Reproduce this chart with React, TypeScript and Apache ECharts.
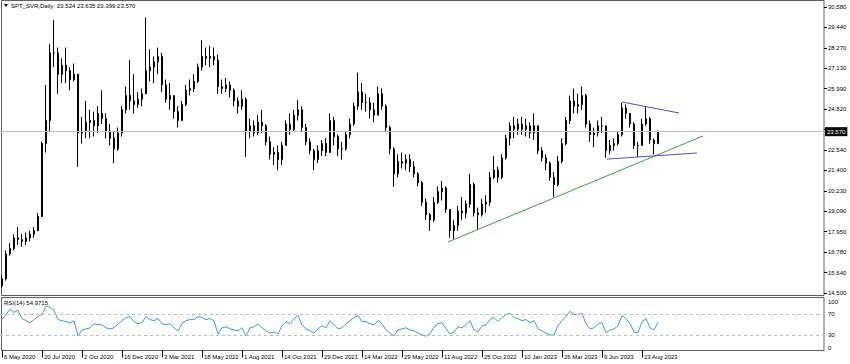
import React, { useEffect, useRef } from 'react';
import * as echarts from 'echarts';

const W = 850;
const H = 364;
const FONT = '"Liberation Sans", Arial, sans-serif';

// Date labels drawn under every 10th bar slot
const xLabels = ['6 May 2020', '20 Jul 2020', '2 Oct 2020', '16 Dec 2020', '3 Mar 2021', '18 May 2021', '1 Aug 2021', '14 Oct 2021', '29 Dec 2021', '14 Mar 2022', '29 May 2022', '11 Aug 2022', '25 Oct 2022', '10 Jan 2023', '26 Mar 2023', '9 Jun 2023', '23 Aug 2023'];

// Price scale labels, bottom to top (index 8 hidden behind the current price box)
const priceLabels = ['14.500', '15.640', '16.780', '17.950', '19.090', '20.230', '21.400', '22.540', '', '24.820', '25.990', '27.130', '28.270', '29.440', '30.580'];
const priceMin = 14.5;
const priceMax = 30.58;
const lastClose = 23.57;
const slotCount = 206;

// [open, close, low, high]
const ohlc: number[][] = [
  [14.9, 15.3, 14.8, 15.5], [15.3, 16.7, 15.2, 16.9], [16.7, 17.0, 16.6, 17.3], [17.0, 17.6, 16.9, 17.8], [17.6, 17.5, 17.2, 18.2],
  [17.5, 17.4, 17.1, 17.8], [17.4, 17.6, 17.2, 17.9], [17.6, 17.8, 17.4, 18.0], [17.8, 18.0, 17.6, 18.2], [18.0, 18.8, 18.0, 19.0],
  [18.8, 22.9, 18.8, 23.0], [22.9, 24.2, 22.4, 26.2], [24.2, 28.0, 23.6, 28.5], [28.0, 28.0, 27.2, 29.85], [28.0, 26.8, 25.7, 28.3],
  [26.8, 27.3, 26.3, 27.7], [27.3, 27.0, 26.3, 28.3], [27.0, 26.5, 25.9, 27.2], [26.5, 26.8, 26.4, 27.4], [26.8, 23.5, 21.6, 26.8],
  [23.5, 23.6, 22.9, 24.4], [23.6, 24.1, 23.2, 25.3], [24.1, 24.2, 23.2, 24.8], [24.2, 23.9, 23.3, 24.7], [23.9, 24.6, 23.5, 25.0],
  [24.6, 24.3, 24.0, 25.9], [24.3, 23.6, 23.2, 24.6], [23.6, 23.2, 22.8, 24.0], [23.2, 22.6, 21.8, 23.6], [22.6, 23.5, 22.5, 23.8],
  [23.5, 24.8, 23.3, 25.0], [24.8, 25.6, 24.6, 26.1], [25.6, 25.3, 24.8, 27.6], [25.3, 25.1, 24.6, 26.8], [25.1, 25.4, 24.9, 25.8],
  [25.4, 25.7, 25.0, 26.0], [25.7, 27.0, 25.7, 30.0], [27.0, 27.2, 26.4, 28.2], [27.2, 27.5, 26.3, 27.8], [27.5, 27.8, 26.8, 28.3],
  [27.8, 26.2, 25.8, 28.0], [26.2, 25.4, 25.2, 26.5], [25.4, 25.6, 24.8, 26.3], [25.6, 24.7, 24.3, 25.6], [24.7, 24.2, 23.8, 25.0],
  [24.2, 25.1, 24.2, 25.3], [25.1, 25.9, 25.0, 26.2], [25.9, 26.0, 25.6, 26.5], [26.0, 26.4, 25.8, 26.8], [26.4, 27.2, 26.3, 27.4],
  [27.2, 27.8, 27.0, 28.72], [27.8, 27.7, 27.3, 28.3], [27.7, 27.8, 27.2, 28.4], [27.8, 27.6, 27.3, 28.3], [27.6, 26.1, 25.7, 27.9],
  [26.1, 26.0, 25.7, 26.5], [26.0, 26.2, 25.8, 26.6], [26.2, 25.9, 25.5, 26.4], [25.9, 25.3, 25.0, 26.0], [25.3, 25.0, 24.6, 25.5],
  [25.0, 25.4, 24.8, 25.9], [25.4, 23.6, 22.15, 25.5], [23.6, 23.9, 23.2, 24.3], [23.9, 23.5, 23.3, 24.2], [23.5, 24.1, 23.4, 24.5],
  [24.1, 23.9, 23.5, 24.8], [23.9, 23.0, 22.8, 24.0], [23.0, 22.3, 22.0, 23.3], [22.3, 22.4, 21.7, 22.7], [22.4, 22.0, 21.4, 22.8],
  [22.0, 22.8, 21.7, 23.0], [22.8, 24.0, 22.8, 24.2], [24.0, 23.7, 23.4, 24.6], [23.7, 24.5, 23.6, 24.8], [24.5, 24.8, 24.2, 25.35],
  [24.8, 23.8, 23.6, 25.0], [23.8, 23.0, 22.8, 24.0], [23.0, 22.5, 22.3, 23.2], [22.5, 22.0, 21.4, 22.6], [22.0, 22.5, 21.8, 22.8],
  [22.5, 22.9, 22.2, 23.1], [22.9, 22.4, 22.2, 23.2], [22.4, 24.2, 22.4, 24.6], [24.2, 23.3, 22.8, 24.4], [23.3, 22.6, 22.2, 23.4],
  [22.6, 22.6, 22.0, 23.0], [22.6, 23.4, 22.5, 23.6], [23.4, 24.0, 23.2, 24.3], [24.0, 25.0, 23.9, 25.2], [25.0, 25.8, 24.8, 26.9],
  [25.8, 25.2, 24.8, 26.3], [25.2, 25.2, 24.7, 25.7], [25.2, 24.8, 24.3, 25.5], [24.8, 24.5, 24.1, 25.2], [24.5, 25.7, 24.5, 26.1],
  [25.7, 25.0, 24.8, 26.0], [25.0, 23.8, 23.6, 25.1], [23.8, 22.6, 22.3, 23.9], [22.6, 21.2, 20.46, 22.7], [21.2, 21.9, 21.0, 22.3],
  [21.9, 21.8, 21.5, 22.4], [21.8, 22.0, 21.4, 22.3], [22.0, 21.6, 21.3, 22.3], [21.6, 21.2, 21.0, 21.9], [21.2, 20.7, 20.5, 21.3],
  [20.7, 19.6, 19.4, 20.8], [19.6, 18.9, 18.6, 19.8], [18.9, 18.6, 18.0, 19.0], [18.6, 19.6, 18.5, 19.9], [19.6, 20.2, 19.5, 20.5],
  [20.2, 20.4, 19.7, 20.8], [20.4, 19.2, 19.0, 20.5], [19.2, 18.0, 17.6, 19.2], [18.0, 18.3, 17.5, 18.6], [18.3, 19.1, 18.0, 19.4],
  [19.1, 19.0, 18.6, 19.9], [19.0, 19.5, 18.7, 19.7], [19.5, 20.6, 19.3, 21.2], [20.6, 19.0, 18.8, 20.7], [19.0, 18.9, 18.04, 19.3],
  [18.9, 19.5, 18.8, 19.8], [19.5, 19.6, 19.0, 20.0], [19.6, 21.0, 19.4, 21.3], [21.0, 21.4, 20.9, 22.2], [21.4, 21.0, 20.7, 21.6],
  [21.0, 22.1, 20.9, 22.3], [22.1, 23.2, 22.0, 23.4], [23.2, 23.9, 22.8, 24.1], [23.9, 23.7, 23.2, 24.4], [23.7, 24.0, 23.4, 24.3],
  [24.0, 23.7, 23.4, 24.4], [23.7, 23.9, 23.3, 24.3], [23.9, 23.5, 23.2, 24.1], [23.5, 23.9, 23.1, 24.6], [23.9, 22.5, 22.3, 23.9],
  [22.5, 22.1, 21.9, 22.7], [22.1, 21.8, 21.4, 22.3], [21.8, 21.0, 20.8, 21.9], [21.0, 20.6, 19.9, 21.3], [20.6, 21.9, 20.5, 22.2],
  [21.9, 22.9, 21.8, 23.2], [22.9, 24.2, 22.8, 24.4], [24.2, 25.3, 24.0, 25.6], [25.3, 25.0, 24.6, 26.0], [25.0, 25.1, 24.6, 25.7],
  [25.1, 25.6, 24.8, 26.1], [25.6, 24.0, 23.8, 25.7], [24.0, 23.4, 23.0, 24.2], [23.4, 23.5, 22.7, 23.8], [23.5, 23.9, 23.3, 24.2],
  [23.9, 23.9, 23.5, 24.4], [23.9, 22.5, 22.1, 23.9], [22.5, 22.8, 22.3, 23.1], [22.8, 22.9, 22.5, 23.2], [22.9, 23.4, 22.8, 23.6],
  [23.4, 24.9, 23.3, 25.2], [24.9, 24.6, 24.3, 25.1], [24.6, 24.0, 23.8, 24.6], [24.0, 22.8, 22.6, 24.1], [22.8, 22.8, 22.15, 23.0],
  [22.8, 24.0, 22.8, 24.3], [24.0, 24.3, 23.9, 24.95], [24.3, 23.1, 22.9, 24.4], [23.1, 22.9, 22.3, 23.2], [22.9, 23.57, 22.9, 23.64],
];

// RSI(14), one reading per bar slot
const rsi = [
  60, 70, 80, 74, 78, 62, 58, 54, 60, 66,
  70, 86, 84, 78, 60, 58, 56, 54, 58, 28,
  40, 42, 44, 52, 50, 50, 44, 42, 44, 52,
  58, 64, 66, 56, 52, 54, 66, 60, 58, 62,
  52, 50, 52, 44, 38, 52, 58, 60, 60, 66,
  64, 60, 62, 58, 32, 44, 46, 42, 40, 38,
  44, 28, 44, 46, 52, 44, 38, 34, 36, 32,
  48, 56, 52, 62, 68, 50, 42, 38, 34, 42,
  48, 44, 58, 50, 42, 44, 52, 58, 64, 68,
  56, 56, 52, 50, 58, 52, 40, 34, 28, 40,
  42, 44, 40, 38, 34, 30, 28, 32, 46, 52,
  54, 42, 32, 36, 46, 44, 50, 58, 40, 36,
  48, 50, 60, 64, 56, 64, 70, 72, 64, 62,
  58, 60, 54, 58, 42, 38, 34, 30, 30, 48,
  58, 66, 76, 70, 70, 72, 52, 42, 44, 52,
  54, 34, 40, 42, 48, 68, 62, 52, 36, 34,
  56, 62, 44, 40, 54.97,
];

// Trend lines: [bar slot, price] end points
const greenTrend = [[111.5, 17.37], [175.25, 23.33]];
const blueUpper = [[155, 25.24], [169.25, 24.62]];
const blueLower = [[151.25, 22.03], [173.75, 22.37]];

const xCats = Array.from({ length: slotCount }, (_, i) => (i % 10 === 0 && xLabels[i / 10] ? xLabels[i / 10] : ''));
const showSlot = (i: number) => i % 10 === 0 && !!xLabels[i / 10];

export default function App() {
  const ref = useRef<HTMLDivElement>(null);
  useEffect(() => {
    const chart = echarts.init(ref.current!, null, { renderer: 'svg', width: W, height: H });
    const candleData = ohlc.map((d, i) => [i, d[0], d[1], d[2], d[3]]);
    const option: any = {
      animation: false,
      backgroundColor: '#fff',
      textStyle: { fontFamily: FONT },
      grid: [
        { left: 0, top: 7, width: 824, height: 286 },
        { left: 0, top: 299, width: 824, height: 51.5 },
      ],
      xAxis: [
        { type: 'value', gridIndex: 0, min: -0.5, max: slotCount - 0.5, show: false },
        { type: 'value', gridIndex: 1, min: -0.5, max: slotCount - 0.5, show: false },
        {
          type: 'category', gridIndex: 1, position: 'bottom', data: xCats, boundaryGap: true,
          axisLine: { show: false },
          axisTick: { show: true, interval: (i: number) => showSlot(i), alignWithLabel: true, length: 7, lineStyle: { color: '#000' } },
          axisLabel: { interval: (i: number) => showSlot(i), align: 'left', margin: 3, fontSize: 6, color: '#000', fontFamily: FONT, padding: [0, 0, 0, 2] },
          splitLine: { show: false },
        },
      ],
      yAxis: [
        { type: 'value', gridIndex: 0, min: priceMin, max: priceMax, show: false },
        {
          type: 'value', gridIndex: 0, position: 'right', min: 0, max: priceLabels.length - 1, interval: 1,
          axisLine: { show: false },
          axisTick: { show: true, length: 3, lineStyle: { color: '#000' } },
          splitLine: { show: false },
          axisLabel: { formatter: (v: number) => priceLabels[Math.round(v)] ?? '', fontSize: 6, color: '#000', margin: 4, fontFamily: FONT },
        },
        {
          type: 'value', gridIndex: 1, position: 'right', min: 0, max: 100, interval: 10,
          axisLine: { show: false }, axisTick: { show: false }, splitLine: { show: false },
          axisLabel: {
            fontSize: 6, color: '#000', margin: 4, fontFamily: FONT,
            formatter: (v: number) => (v === 100 ? '{t|100}' : v === 70 ? '70' : v === 30 ? '30' : v === 0 ? '{b|0}' : ''),
            rich: {
              t: { fontSize: 6, color: '#000', fontFamily: FONT, padding: [6, 0, 0, 0] },
              b: { fontSize: 6, color: '#000', fontFamily: FONT, padding: [0, 0, 6, 0] },
            },
          },
        },
      ],
      series: [
        {
          type: 'candlestick', xAxisIndex: 0, yAxisIndex: 0, data: candleData, barWidth: 2, clip: false,
          itemStyle: { color: '#000', color0: '#000', borderColor: '#000', borderColor0: '#000', borderWidth: 1 },
          markLine: {
            silent: true, symbol: 'none', data: [{ yAxis: lastClose }],
            lineStyle: { color: '#c0c0c0', type: 'solid', width: 1 },
            label: { show: true, position: 'end', formatter: lastClose.toFixed(3), backgroundColor: '#000', color: '#fff', fontSize: 6, fontFamily: FONT, padding: [2, 2, 1, 2], distance: 1 },
          },
        },
        { type: 'line', xAxisIndex: 0, yAxisIndex: 0, data: greenTrend, symbol: 'none', silent: true, lineStyle: { color: '#3ea33e', width: 1 } },
        { type: 'line', xAxisIndex: 0, yAxisIndex: 0, data: blueUpper, symbol: 'none', silent: true, lineStyle: { color: '#4b4be0', width: 1 } },
        { type: 'line', xAxisIndex: 0, yAxisIndex: 0, data: blueLower, symbol: 'none', silent: true, lineStyle: { color: '#4b4be0', width: 1 } },
        {
          type: 'line', xAxisIndex: 1, yAxisIndex: 2, data: rsi.map((v, i) => [i, v]), symbol: 'none', silent: true,
          lineStyle: { color: '#3a9af0', width: 1 },
          markLine: {
            silent: true, symbol: 'none', data: [{ yAxis: 70 }, { yAxis: 30 }],
            lineStyle: { color: '#c0c0c0', type: [3, 3], width: 1 }, label: { show: false },
          },
        },
      ],
      graphic: [
        { type: 'rect', silent: true, shape: { x: 1.5, y: 0.5, width: 822.5, height: 295 }, style: { fill: 'none', stroke: '#606060', lineWidth: 1 } },
        { type: 'rect', silent: true, shape: { x: 1.5, y: 297.5, width: 822.5, height: 53 }, style: { fill: 'none', stroke: '#606060', lineWidth: 1 } },
        { type: 'polygon', silent: true, shape: { points: [[4, 4], [8, 4], [6, 7]] }, style: { fill: '#000' } },
        { type: 'text', silent: true, x: 11, y: 6, style: { text: 'SPT_SVR,Daily', fill: '#000', fontSize: 6, fontFamily: FONT, verticalAlign: 'middle' } },
        { type: 'text', silent: true, x: 57, y: 6, style: { text: '23.524 23.635 23.399 23.570', fill: '#000', fontSize: 6, fontFamily: FONT, verticalAlign: 'middle' } },
        { type: 'text', silent: true, x: 4, y: 303, style: { text: 'RSI(14) 54.9715', fill: '#000', fontSize: 6, fontFamily: FONT, verticalAlign: 'middle' } },
      ],
    };
    chart.setOption(option);
    return () => chart.dispose();
  }, []);
  return <div ref={ref} style={{ position: 'fixed', left: 0, top: 0, width: W, height: H, background: '#fff' }} />;
}
